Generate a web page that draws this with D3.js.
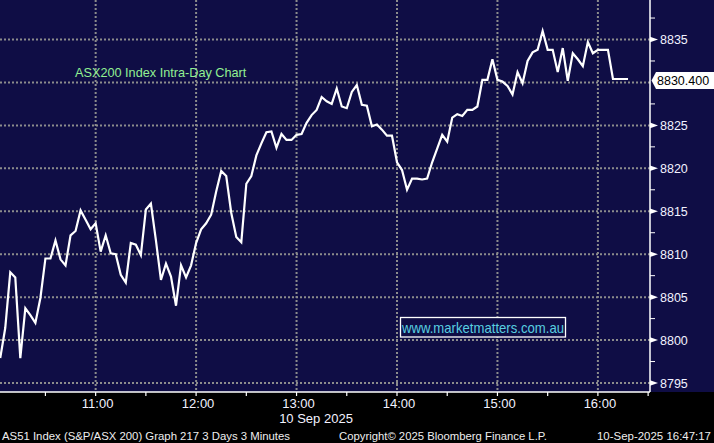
<!DOCTYPE html>
<html>
<head>
<meta charset="utf-8">
<script src="https://cdn.jsdelivr.net/npm/d3@7"></script>
<style>
  html, body { margin: 0; padding: 0; background: #000; }
  svg { display: block; }
  text { font-family: "Liberation Sans", Arial, sans-serif; }
</style>
</head>
<body>
<svg id="chart" width="714" height="443"></svg>
<script>
// ---- data ----
const seriesStart = "2025-09-10T10:03:00";
const stepMinutes = 3;
const values = [
  8797.9, 8801.4, 8807.9, 8807.3, 8797.9, 8803.7, 8802.9, 8802.0, 8804.9, 8809.5,
  8809.5, 8811.6, 8809.4, 8808.7, 8812.2, 8812.7, 8815.1, 8814.0, 8812.9, 8813.6,
  8810.3, 8812.2, 8810.1, 8810.0, 8807.6, 8806.7, 8811.3, 8811.1, 8809.9, 8815.2,
  8815.9, 8811.6, 8807.0, 8808.9, 8807.4, 8804.0, 8808.7, 8807.3, 8808.7, 8811.3,
  8812.9, 8813.6, 8814.6, 8817.3, 8819.7, 8819.1, 8814.8, 8812.0, 8811.4, 8818.2,
  8819.1, 8821.5, 8822.9, 8824.2, 8824.3, 8822.4, 8824.0, 8823.3, 8823.3, 8823.9,
  8824.0, 8825.3, 8826.2, 8826.8, 8828.3, 8827.8, 8827.5, 8829.3, 8827.2, 8827.0,
  8828.9, 8829.7, 8827.4, 8827.3, 8824.9, 8825.1, 8824.5, 8823.8, 8823.8, 8820.7,
  8819.8, 8817.5, 8818.8, 8818.8, 8818.7, 8818.8, 8820.7, 8822.3, 8823.9, 8823.1,
  8825.9, 8826.3, 8826.1, 8826.8, 8826.8, 8827.2, 8830.3, 8830.3, 8832.7, 8830.3,
  8830.1, 8829.6, 8828.6, 8831.2, 8829.9, 8832.5, 8833.5, 8833.8, 8836.0, 8833.8,
  8833.8, 8831.2, 8834.0, 8830.2, 8833.4, 8832.7, 8831.9, 8834.7, 8833.4, 8833.8,
  8833.8, 8833.8, 8830.4, 8830.4, 8830.4, 8830.4
];
const lastValue = 8830.4;
const yTicks = [8795, 8800, 8805, 8810, 8815, 8820, 8825, 8830, 8835];
const xTickLabels = ["11:00", "12:00", "13:00", "14:00", "15:00", "16:00"];
const dateLabel = "10 Sep 2025";
const titleText = "ASX200 Index Intra-Day Chart";
const watermarkText = "www.marketmatters.com.au";
const footerLeft = "AS51 Index (S&P/ASX 200) Graph 217 3 Days 3 Minutes";
const footerMid = "Copyright\u00A9 2025 Bloomberg Finance L.P.";
const footerRight = "10-Sep-2025 16:47:17";

// ---- layout ----
const W = 714, H = 443;
const plotRight = 650, plotBottom = 392;
const navy = "#0f0d45";
const gridColor = "#8c8c8c";

const parse = d3.timeParse("%Y-%m-%dT%H:%M:%S");
const t0 = parse(seriesStart);
const data = values.map((v, i) => ({ t: d3.timeMinute.offset(t0, i * stepMinutes), v }));

const x = d3.scaleTime()
  .domain([parse("2025-09-10T10:00:00"), parse("2025-09-10T16:00:00")])
  .range([-4.8, 597.9]);
const y = d3.scaleLinear().domain([8795, 8835]).range([383, 39.5]);

const svg = d3.select("#chart");
svg.append("rect").attr("width", W).attr("height", H).attr("fill", "#000");
svg.append("rect").attr("width", W).attr("height", plotBottom).attr("fill", navy);

// grid
const hourTicks = xTickLabels.map(s => parse("2025-09-10T" + s + ":00"));
const grid = svg.append("g");
grid.selectAll("line.h").data(yTicks).join("line")
  .attr("x1", 0).attr("x2", plotRight)
  .attr("y1", d => y(d)).attr("y2", d => y(d))
  .attr("stroke", gridColor).attr("stroke-width", 2).attr("stroke-dasharray", "2,2");
grid.selectAll("line.v").data(hourTicks).join("line")
  .attr("x1", d => x(d)).attr("x2", d => x(d))
  .attr("y1", 0).attr("y2", plotBottom)
  .attr("stroke", gridColor).attr("stroke-width", 2).attr("stroke-dasharray", "2,2");

// title
svg.append("text").attr("x", 75).attr("y", 77)
  .attr("fill", "#92f092").attr("font-size", 12.7).text(titleText);

// watermark
svg.append("rect").attr("x", 400.5).attr("y", 317.5).attr("width", 165).attr("height", 19.5)
  .attr("fill", navy).attr("stroke", "#fff").attr("stroke-width", 1.3);
svg.append("text").attr("x", 402).attr("y", 332.5)
  .attr("fill", "#58cfe0").attr("font-size", 15)
  .attr("textLength", 162).attr("lengthAdjust", "spacingAndGlyphs").text(watermarkText);

// line
const line = d3.line().x(d => x(d.t)).y(d => y(d.v));
svg.append("path").datum(data).attr("d", line)
  .attr("fill", "none").attr("stroke", "#fff").attr("stroke-width", 2.2)
  .attr("stroke-linejoin", "miter");

// axes lines
svg.append("line").attr("x1", plotRight).attr("x2", plotRight).attr("y1", 0).attr("y2", plotBottom)
  .attr("stroke", "#fff").attr("stroke-width", 1.5);
svg.append("line").attr("x1", 0).attr("x2", plotRight).attr("y1", plotBottom).attr("y2", plotBottom)
  .attr("stroke", "#fff").attr("stroke-width", 1.5);

// right axis minor ticks
const minor = [8837.5, 8832.5, 8827.5, 8822.5, 8817.5, 8812.5, 8807.5, 8802.5, 8797.5];
svg.selectAll("line.ym").data(minor).join("line")
  .attr("x1", plotRight).attr("x2", plotRight + 5)
  .attr("y1", d => y(d)).attr("y2", d => y(d))
  .attr("stroke", "#fff").attr("stroke-width", 1);

// right axis major ticks (arrows) and labels
const yl = svg.append("g");
yl.selectAll("path").data(yTicks.filter(d => d !== 8830)).join("path")
  .attr("d", d => `M${plotRight},${y(d) - 2.8}L${plotRight + 8},${y(d)}L${plotRight},${y(d) + 2.8}Z`)
  .attr("fill", "#fff");
yl.selectAll("text").data(yTicks.filter(d => d !== 8830)).join("text")
  .attr("x", 660).attr("y", d => y(d) + 4.5)
  .attr("fill", "#f2f2ff").attr("font-size", 12.5).text(d => d);

// last value label
const ly = y(lastValue) + 1.5;
svg.append("path")
  .attr("d", `M${plotRight + 1.5},${ly}L${plotRight + 6},${ly - 8.5}L${W},${ly - 8.5}L${W},${ly + 8.5}L${plotRight + 6},${ly + 8.5}Z`)
  .attr("fill", "#fff");
svg.append("text").attr("x", 657).attr("y", ly + 4.5)
  .attr("fill", "#000").attr("font-size", 12.5).text(lastValue.toFixed(3));

// bottom ticks
const halfHours = d3.timeMinute.every(30).range(parse("2025-09-10T10:30:00"), parse("2025-09-10T16:31:00"));
svg.selectAll("line.xt").data(halfHours).join("line")
  .attr("x1", d => x(d)).attr("x2", d => x(d))
  .attr("y1", plotBottom).attr("y2", plotBottom + 4)
  .attr("stroke", "#fff").attr("stroke-width", 1.2);

// hour labels
svg.selectAll("text.xl").data(hourTicks).join("text")
  .attr("x", d => x(d) + 2).attr("y", 408)
  .attr("text-anchor", "middle").attr("fill", "#f2f2ff").attr("font-size", 13)
  .text((d, i) => xTickLabels[i]);
svg.append("text").attr("x", 316).attr("y", 423).attr("text-anchor", "middle")
  .attr("fill", "#f2f2ff").attr("font-size", 13).text(dateLabel);

// footer
const foot = svg.append("g").attr("fill", "#eeeeee").attr("font-size", 11.5);
foot.append("text").attr("x", 2).attr("y", 439.5)
  .attr("textLength", 288).attr("lengthAdjust", "spacingAndGlyphs").text(footerLeft);
foot.append("text").attr("x", 339).attr("y", 439.5)
  .attr("textLength", 208).attr("lengthAdjust", "spacingAndGlyphs").text(footerMid);
foot.append("text").attr("x", 597).attr("y", 439.5)
  .attr("textLength", 114).attr("lengthAdjust", "spacingAndGlyphs").text(footerRight);
</script>
</body>
</html>
